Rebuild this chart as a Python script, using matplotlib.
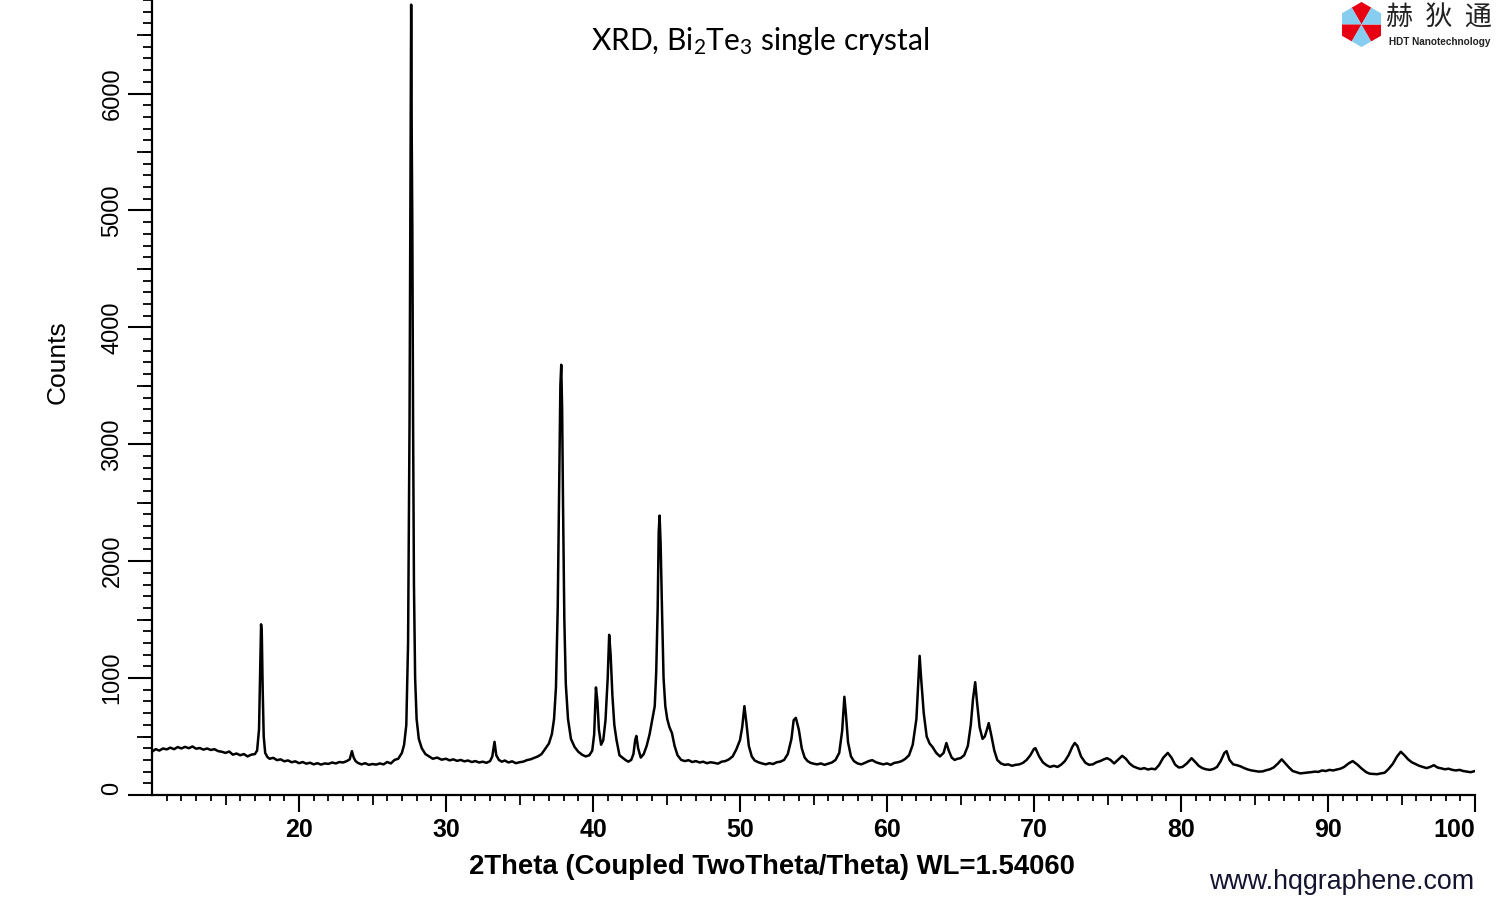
import numpy as np
import matplotlib
matplotlib.use("Agg")
import matplotlib.pyplot as plt
from matplotlib.ticker import FixedLocator, MultipleLocator
from matplotlib.patches import Polygon, Wedge

# ---------------- data ----------------
two_theta = [
    10.0, 10.25, 10.5, 10.75, 11.0, 11.25, 11.5, 11.75, 12.0, 12.25, 12.5, 12.75,
    13.0, 13.25, 13.5, 13.75, 14.0, 14.25, 14.5, 14.75, 15.0, 15.25, 15.5, 15.75,
    16.0, 16.25, 16.5, 16.75, 17.0, 17.15, 17.28, 17.35, 17.42, 17.47, 17.53, 17.6,
    17.7, 17.85, 18.0, 18.25, 18.5, 18.75, 19.0, 19.25, 19.5, 19.75, 20.0, 20.25,
    20.5, 20.75, 21.0, 21.25, 21.5, 21.75, 22.0, 22.25, 22.5, 22.75, 23.0, 23.25,
    23.45, 23.6, 23.72, 23.85, 24.0, 24.25, 24.5, 24.75, 25.0, 25.25, 25.5, 25.75,
    26.0, 26.25, 26.5, 26.75, 27.0, 27.15, 27.3, 27.42, 27.52, 27.58, 27.63, 27.67,
    27.71, 27.76, 27.82, 27.9, 28.0, 28.15, 28.35, 28.6, 28.85, 29.1, 29.4, 29.7,
    30.0, 30.25, 30.5, 30.75, 31.0, 31.25, 31.5, 31.75, 32.0, 32.25, 32.5, 32.75,
    33.0, 33.15, 33.3, 33.42, 33.6, 33.8, 34.0, 34.25, 34.5, 34.75, 35.0, 35.25,
    35.5, 35.75, 36.0, 36.25, 36.5, 36.75, 37.0, 37.2, 37.35, 37.48, 37.6, 37.7,
    37.78, 37.84, 37.9, 37.96, 38.05, 38.15, 38.3, 38.5, 38.75, 39.0, 39.25, 39.5,
    39.75, 39.95, 40.08, 40.2, 40.3, 40.4, 40.55, 40.7, 40.85, 41.0, 41.1, 41.2,
    41.32, 41.45, 41.6, 41.8, 42.0, 42.2, 42.4, 42.6, 42.75, 42.87, 42.95, 43.07,
    43.25, 43.45, 43.65, 43.85, 44.05, 44.2, 44.3, 44.4, 44.47, 44.53, 44.6, 44.7,
    44.8, 44.92, 45.05, 45.2, 45.37, 45.55, 45.75, 46.0, 46.25, 46.5, 46.75, 47.0,
    47.25, 47.5, 47.75, 48.0, 48.25, 48.5, 48.75, 49.0, 49.25, 49.5, 49.75, 50.0,
    50.15, 50.3, 50.45, 50.6, 50.8, 51.0, 51.25, 51.5, 51.75, 52.0, 52.25, 52.5,
    52.75, 53.0, 53.25, 53.5, 53.65, 53.8, 54.0, 54.2, 54.4, 54.6, 54.8, 55.0,
    55.25, 55.5, 55.75, 56.0, 56.25, 56.5, 56.75, 56.95, 57.1, 57.2, 57.35, 57.55,
    57.75, 58.0, 58.25, 58.5, 58.75, 59.0, 59.25, 59.5, 59.75, 60.0, 60.25, 60.5,
    60.75, 61.0, 61.25, 61.5, 61.75, 62.0, 62.12, 62.22, 62.32, 62.5, 62.7, 62.9,
    63.1, 63.35, 63.6, 63.85, 64.04, 64.2, 64.4, 64.6, 64.8, 65.0, 65.25, 65.5,
    65.7, 65.85, 66.0, 66.12, 66.3, 66.5, 66.65, 66.8, 66.92, 67.08, 67.3, 67.5,
    67.75, 68.0, 68.25, 68.5, 68.75, 69.0, 69.25, 69.5, 69.75, 70.0, 70.1, 70.35,
    70.6, 70.85, 71.1, 71.35, 71.6, 71.85, 72.1, 72.35, 72.6, 72.77, 72.95, 73.2,
    73.5, 73.75, 74.0, 74.25, 74.5, 74.75, 74.97, 75.2, 75.45, 75.7, 76.0, 76.25,
    76.5, 76.75, 77.0, 77.25, 77.5, 77.75, 78.0, 78.25, 78.5, 78.8, 79.1, 79.35,
    79.6, 79.85, 80.1, 80.4, 80.72, 80.95, 81.2, 81.45, 81.7, 81.95, 82.2, 82.45,
    82.7, 82.95, 83.1, 83.3, 83.55, 83.8, 84.05, 84.3, 84.55, 84.8, 85.05, 85.3,
    85.55, 85.8, 86.05, 86.3, 86.6, 86.85, 87.1, 87.35, 87.6, 87.85, 88.1, 88.35,
    88.6, 88.85, 89.1, 89.35, 89.6, 89.85, 90.1, 90.35, 90.6, 90.85, 91.1, 91.4,
    91.68, 92.0, 92.3, 92.6, 92.85, 93.1, 93.35, 93.6, 93.85, 94.1, 94.4, 94.7,
    94.95, 95.2, 95.45, 95.7, 95.95, 96.2, 96.45, 96.7, 96.95, 97.2, 97.45, 97.7,
    97.95, 98.2, 98.45, 98.7, 98.95, 99.2, 99.45, 99.7, 100.0,
]
counts = [
    370, 392, 380, 398, 390, 405, 392, 410, 398, 412, 400, 415,
    396, 402, 388, 398, 385, 392, 375, 370, 360, 372, 345, 355,
    340, 350, 330, 345, 350, 380, 560, 1000, 1460, 1380, 900, 500,
    360, 325, 310, 318, 298, 305, 288, 296, 280, 288, 272, 282,
    268, 276, 262, 272, 260, 270, 266, 278, 270, 282, 278, 290,
    305, 375, 320, 290, 275, 262, 272, 258, 265, 260, 270, 262,
    282, 270, 300, 310, 360, 430, 600, 1300, 3200, 5200, 6760, 5600,
    4850, 3200, 1800, 1000, 650, 480, 400, 350, 330, 310, 320, 302,
    310, 296, 305, 292, 300, 288, 295, 282, 290, 278, 285, 275,
    290, 330, 455, 340, 300, 285, 295, 278, 288, 272, 280, 285,
    298, 305, 318, 330, 350, 395, 440, 520, 650, 920, 1600, 2700,
    3500, 3680, 3300, 2500, 1500, 950, 650, 480, 410, 370, 345, 330,
    340, 380, 520, 920, 800, 560, 430, 470, 640, 1000, 1370, 1200,
    850, 600, 470, 340, 320, 300, 285, 300, 350, 470, 505, 400,
    320, 350, 420, 520, 660, 760, 1050, 1600, 2250, 2390, 2150, 1550,
    1000, 760, 650, 580, 530, 420, 340, 300, 290, 298, 282, 290,
    278, 285, 272, 280, 275, 268, 285, 290, 305, 330, 390, 470,
    580, 760, 600, 420, 330, 295, 280, 270, 262, 272, 265, 280,
    285, 300, 350, 480, 640, 660, 560, 400, 320, 290, 275, 268,
    262, 270, 258, 268, 278, 300, 360, 550, 840, 700, 450, 330,
    290, 270, 262, 275, 290, 298, 280, 270, 262, 270, 258, 275,
    280, 290, 310, 340, 430, 650, 950, 1190, 1000, 700, 500, 440,
    410, 360, 330, 360, 445, 380, 320, 300, 310, 315, 340, 420,
    600, 820, 965, 800, 580, 480, 500, 560, 615, 520, 380, 300,
    270, 258, 262, 250, 258, 262, 275, 300, 340, 395, 400, 330,
    280, 255, 240, 250, 240, 260, 290, 340, 410, 445, 420, 330,
    275, 258, 262, 280, 290, 305, 315, 300, 270, 300, 335, 310,
    270, 245, 232, 222, 230, 218, 225, 220, 255, 320, 360, 320,
    260, 235, 240, 270, 315, 285, 250, 230, 220, 215, 222, 240,
    290, 360, 375, 300, 262, 255, 245, 230, 218, 210, 205, 200,
    202, 212, 220, 235, 270, 305, 270, 235, 205, 195, 185, 188,
    192, 195, 200, 198, 210, 205, 215, 210, 218, 225, 240, 270,
    290, 260, 225, 195, 182, 180, 178, 185, 190, 220, 265, 330,
    370, 340, 305, 280, 265, 250, 240, 230, 240, 255, 235, 228,
    220, 225, 215, 210, 215, 205, 200, 195, 205,
]
x_major_ticks = [20, 30, 40, 50, 60, 70, 80, 90, 100]
y_major_ticks = [0, 1000, 2000, 3000, 4000, 5000, 6000]

title_text = r"XRD, Bi$\mathregular{_2}$Te$\mathregular{_3}$ single crystal"
x_label = "2Theta (Coupled TwoTheta/Theta) WL=1.54060"
y_label = "Counts"
website = "www.hqgraphene.com"
logo_cn = "赫  狄  通"
logo_en = "HDT Nanotechnology"

# ---------------- figure ----------------
plt.rcParams['font.family'] = ['Liberation Sans', 'DejaVu Sans']
W, H = 1500, 900
fig = plt.figure(figsize=(15, 9), dpi=100)
ax = fig.add_axes([152 / W, 1 - 795 / H, (1475 - 152) / W, 795 / H])

ax.plot(two_theta, counts, color='black', lw=1.8)
ax.set_xlim(10, 100)
ax.set_ylim(0, 6800)

for s in ('top', 'right'):
    ax.spines[s].set_visible(False)
for s in ('left', 'bottom'):
    ax.spines[s].set_linewidth(1.6)

# x ticks
ax.xaxis.set_major_locator(FixedLocator(x_major_ticks))
ax.xaxis.set_minor_locator(FixedLocator([v for v in range(11, 100) if v % 5]))
ax.tick_params(axis='x', which='major', length=12.5, width=1.5, pad=4,
               labelsize=18, direction='out')
ax.tick_params(axis='x', which='minor', length=4.5, width=1.3, direction='out')
xlabs = ax.get_xticklabels()
for lab in xlabs:
    lab.set_fontweight('bold')
xlabs[-1].set_ha('right')
secx = ax.secondary_xaxis('bottom')
secx.set_xticks(list(range(15, 100, 10)))
secx.tick_params(length=7.5, width=1.3, labelbottom=False, direction='out')
secx.spines['bottom'].set_visible(False)

# y ticks
ax.yaxis.set_major_locator(FixedLocator(y_major_ticks))
ax.yaxis.set_minor_locator(MultipleLocator(100))
ax.tick_params(axis='y', which='major', length=17.5, width=1.5, pad=3,
               labelsize=17, direction='out', labelrotation=90)
ax.tick_params(axis='y', which='minor', length=6.5, width=1.3, direction='out')
ylabs = ax.get_yticklabels()
for lab in ylabs:
    lab.set_va('center')
ylabs[0].set_va('bottom')
secy = ax.secondary_yaxis('left')
secy.set_yticks(list(range(500, 6800, 1000)))
secy.tick_params(length=11, width=1.3, labelleft=False, direction='out')
secy.spines['left'].set_visible(False)

ax.set_xlabel(x_label, fontsize=19.8, fontweight='bold')
ax.xaxis.set_label_coords((772 - 152) / 1323, (795 - 867) / 795)
ax.xaxis.label.set_va('center')
ax.set_ylabel(y_label, fontsize=19)
ax.yaxis.set_label_coords((58 - 152) / 1323, (795 - 362) / 795)
ax.yaxis.label.set_va('center')

# title
fig.text(760 / W, 1 - 41 / H, title_text, ha='center', va='center',
         fontsize=21.5, family=['Lato', 'DejaVu Sans'])

# website
fig.text(1474 / W, 1 - 882 / H, website, ha='right', va='center',
         fontsize=19.3, color='#141430')

# logo
lax = fig.add_axes([(1361.5 - 25) / W, 1 - (24.5 + 25) / H, 50 / W, 50 / H])
lax.set_xlim(-1.11, 1.11)
lax.set_ylim(-1.11, 1.11)
lax.axis('off')
ang = np.deg2rad(np.arange(90, 450, 60))
hexagon = Polygon(np.column_stack([np.cos(ang), np.sin(ang)]), closed=True,
                  facecolor='none', edgecolor='none')
lax.add_patch(hexagon)
wedge_cols = ['#e60012', '#86cdf0']
for i, a in enumerate(range(90, 450, 60)):
    w = Wedge((0, 0), 1.3, a - 30, a + 30, facecolor=wedge_cols[i % 2],
              edgecolor='none')
    lax.add_patch(w)
    w.set_clip_path(hexagon)
fig.text(1439 / W, 1 - 18 / H, logo_cn, ha='center', va='center', fontsize=19.5,
         family=['Noto Sans CJK SC', 'DejaVu Sans'], color='#222222')
fig.text(1440 / W, 1 - 42 / H, logo_en, ha='center', va='center', fontsize=7.2,
         fontweight='bold', color='#222222')

fig.savefig('out.png', dpi=100)
